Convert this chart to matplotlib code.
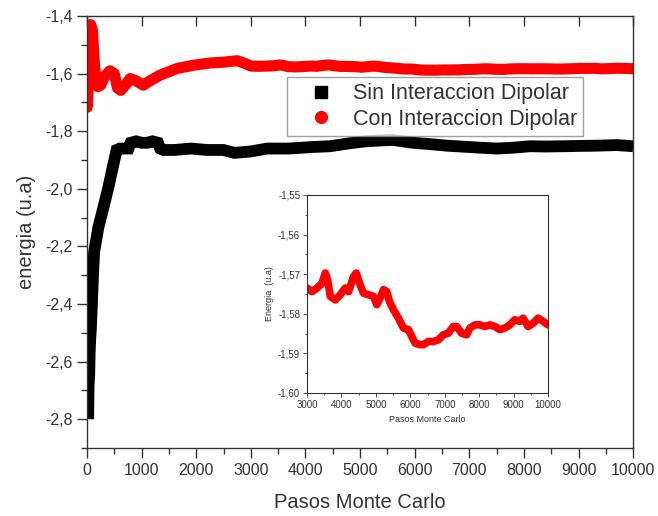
import matplotlib
matplotlib.use("Agg")
import matplotlib.pyplot as plt
from matplotlib.ticker import MultipleLocator, FuncFormatter
from matplotlib.lines import Line2D

plt.rcParams['font.family'] = ['Liberation Sans', 'DejaVu Sans']

# datos
pasos_sin = [20, 30, 40, 50, 60, 70, 90, 110, 130, 207, 299, 390, 470, 543, 600, 700,
             760, 800, 900, 1000, 1100, 1200, 1300, 1340, 1400, 1600, 1900, 2200, 2500,
             2700, 3000, 3300, 3700, 4100, 4450, 4800, 5100, 5366, 5600, 5971, 6300,
             6587, 7198, 7509, 7808, 8114, 8400, 8724, 9000, 9335, 9701, 10000]
energia_sin = [-2.80, -2.68, -2.65, -2.56, -2.52, -2.49, -2.40, -2.30, -2.22, -2.135,
               -2.066, -1.996, -1.926, -1.865, -1.86, -1.86, -1.86, -1.84, -1.835, -1.84,
               -1.84, -1.835, -1.84, -1.86, -1.865, -1.865, -1.86, -1.865, -1.865, -1.875,
               -1.87, -1.86, -1.86, -1.855, -1.852, -1.842, -1.835, -1.832, -1.83, -1.84,
               -1.845, -1.85, -1.857, -1.86, -1.857, -1.852, -1.853, -1.852, -1.851,
               -1.85, -1.848, -1.852]

pasos_con_ini = [0, 10, 20, 40, 70, 100, 130, 170, 200, 250, 320, 420, 500, 560, 620,
                 700, 790, 900, 1030, 1150, 1340, 1650, 1940, 2250, 2500, 2750, 2900]
energia_con_ini = [-1.717, -1.71, -1.65, -1.43, -1.43, -1.45, -1.55, -1.64, -1.645,
                   -1.64, -1.61, -1.59, -1.60, -1.65, -1.658, -1.64, -1.617, -1.625,
                   -1.64, -1.625, -1.605, -1.582, -1.571, -1.563, -1.56, -1.555, -1.565]

pasos_con = [3000, 3145, 3290, 3434, 3531, 3598, 3676, 3820, 3965, 4110, 4207, 4351,
             4429, 4525, 4641, 4786, 4931, 5027, 5124, 5220, 5317, 5394, 5510, 5655,
             5800, 5944, 6041, 6138, 6283, 6380, 6524, 6669, 6814, 6959, 7103, 7248,
             7345, 7490, 7634, 7731, 7876, 8020, 8165, 8310, 8455, 8600, 8745, 8890,
             9035, 9180, 9276, 9421, 9566, 9710, 9855, 10000]
energia_con = [-1.5735, -1.5744, -1.5735, -1.5723, -1.5697, -1.5714, -1.5756, -1.5765,
               -1.5752, -1.5735, -1.5744, -1.5706, -1.5697, -1.5723, -1.5748, -1.5752,
               -1.5756, -1.5777, -1.5760, -1.5739, -1.5744, -1.5769, -1.5790, -1.5811,
               -1.5836, -1.5840, -1.5857, -1.5874, -1.5878, -1.5878, -1.5870, -1.5870,
               -1.5866, -1.5853, -1.5849, -1.5832, -1.5832, -1.5849, -1.5853, -1.5836,
               -1.5828, -1.5828, -1.5832, -1.5828, -1.5832, -1.5840, -1.5836, -1.5828,
               -1.5815, -1.5819, -1.5811, -1.5832, -1.5824, -1.5811, -1.5819, -1.5828]

gris = '#333333'

fig = plt.figure(figsize=(6.58, 5.16), dpi=100)
ax = fig.add_axes([0.1322, 0.1318, 0.830, 0.837])

ax.plot(pasos_sin, energia_sin, color='black', lw=8.5, solid_capstyle='butt',
        solid_joinstyle='miter')
ax.plot(pasos_con_ini + pasos_con, energia_con_ini + energia_con, color='#ff0000',
        lw=8, solid_capstyle='round')

ax.set_xlim(0, 10000)
ax.set_ylim(-2.9, -1.4)
ax.xaxis.set_major_locator(MultipleLocator(1000))
ax.xaxis.set_minor_locator(MultipleLocator(500))
ax.yaxis.set_major_locator(MultipleLocator(0.2))
ax.yaxis.set_minor_locator(MultipleLocator(0.1))
ax.yaxis.set_major_formatter(FuncFormatter(lambda v, p: ('%.1f' % v).replace('.', ',')))
ax.tick_params(axis='both', which='major', direction='out', length=7, width=1,
               color=gris, labelcolor=gris, labelsize=11.5)
ax.tick_params(axis='both', which='minor', direction='out', length=4, width=1, color=gris)
for s in ax.spines.values():
    s.set_color(gris)
    s.set_linewidth(1)

# ticks interiores arriba
top = ax.secondary_xaxis('top')
top.xaxis.set_major_locator(MultipleLocator(1000))
top.tick_params(direction='in', length=7, width=1, color=gris, labeltop=False)
top.spines['top'].set_visible(False)

ax.set_xlabel('Pasos Monte Carlo', fontsize=14.5, color=gris, labelpad=11)
ax.set_ylabel('energia (u.a)', fontsize=14.5, color=gris, labelpad=6)

handles = [Line2D([], [], ls='none', marker='s', color='black', markersize=8.5),
           Line2D([], [], ls='none', marker='o', color='#ff0000', markersize=8.5)]
leg = fig.legend(handles, ['Sin Interaccion Dipolar', 'Con Interaccion Dipolar'],
                 loc='upper left', bbox_to_anchor=(0.436, 0.851), fontsize=15.5,
                 frameon=True, fancybox=False, edgecolor='#888888', borderpad=0.3,
                 handlelength=2.6, handletextpad=0.15, labelspacing=0.2,
                 borderaxespad=0)
leg.get_frame().set_linewidth(1)
for t in leg.get_texts():
    t.set_color(gris)

# grafico interior
axi = fig.add_axes([0.4666, 0.2384, 0.3663, 0.3837])
axi.plot(pasos_con, energia_con, color='#ff0000', lw=5.5, solid_capstyle='round')
axi.set_xlim(3000, 10000)
axi.set_ylim(-1.60, -1.55)
axi.xaxis.set_major_locator(MultipleLocator(1000))
axi.xaxis.set_minor_locator(MultipleLocator(500))
axi.yaxis.set_major_locator(MultipleLocator(0.01))
axi.yaxis.set_minor_locator(MultipleLocator(0.005))
axi.yaxis.set_major_formatter(FuncFormatter(lambda v, p: ('%.2f' % v).replace('.', ',')))
axi.tick_params(axis='both', which='major', direction='out', length=3, width=0.6,
                color=gris, labelcolor=gris, labelsize=7, pad=2)
axi.tick_params(axis='both', which='minor', direction='out', length=1.5, width=0.6,
                color=gris)
for s in axi.spines.values():
    s.set_color(gris)
    s.set_linewidth(0.8)
axi.set_xlabel('Pasos Monte Carlo', fontsize=6.5, color=gris, labelpad=4)
axi.set_ylabel('Energia  (u.a)', fontsize=6.5, color=gris, labelpad=3)

fig.savefig('out.png', dpi=100)
